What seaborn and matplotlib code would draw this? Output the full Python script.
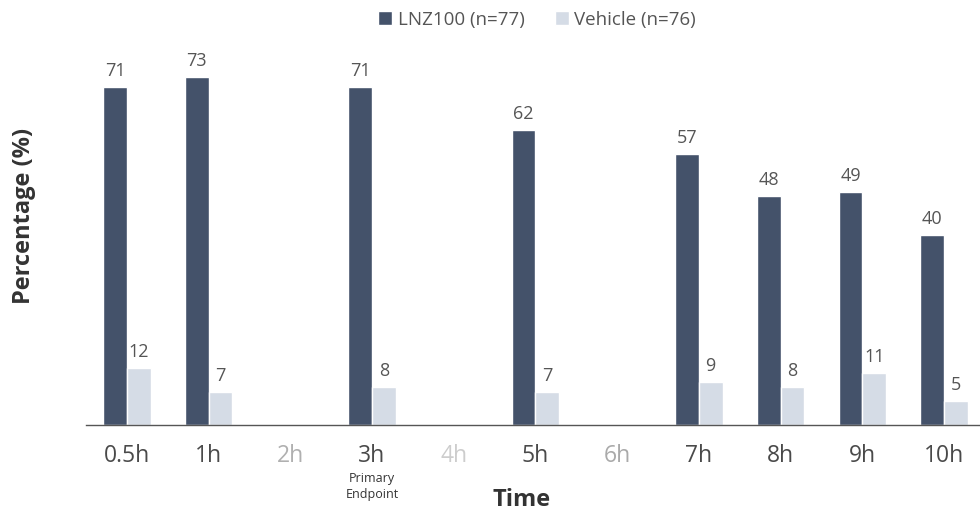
import matplotlib
matplotlib.use("Agg")
import matplotlib.pyplot as plt
from matplotlib.patches import Patch
import seaborn as sns
import pandas as pd
import numpy as np

# Time points on the x axis (2h, 4h and 6h were not assessed)
time_points = ["0.5h", "1h", "2h", "3h", "4h", "5h", "6h", "7h", "8h", "9h", "10h"]
measured = ["0.5h", "1h", "3h", "5h", "7h", "8h", "9h", "10h"]
lnz100 = [71, 73, 71, 62, 57, 48, 49, 40]
vehicle = [12, 7, 8, 7, 9, 8, 11, 5]
groups = ["LNZ100 (n=77)", "Vehicle (n=76)"]

dark = "#44526a"
light = "#d5dce6"
text_col = "#4a4a4a"

df = pd.DataFrame({
    "Time": measured * 2,
    "Percentage": lnz100 + vehicle,
    "Group": [groups[0]] * len(measured) + [groups[1]] * len(measured),
})

sns.set_theme(style="white")
plt.rcParams["font.family"] = ["Open Sans", "DejaVu Sans"]

fig = plt.figure(figsize=(9.8, 5.13), dpi=100)
ax = fig.add_axes([86 / 980, 88 / 513, 894 / 980, 381 / 513])

sns.barplot(data=df, x="Time", y="Percentage", hue="Group", order=time_points,
            hue_order=groups, palette=[dark, light], width=0.58, saturation=1,
            legend=False, ax=ax)

ax.set_ylim(0, 80)
ax.set_xlim(-0.5, 10.44)

# value labels above each bar
for container in ax.containers:
    for bar in container:
        h = bar.get_height()
        if np.isnan(h):
            continue
        ax.annotate(f"{h:.0f}", (bar.get_x() + bar.get_width() / 2, h),
                    xytext=(0, 5), textcoords="offset points",
                    ha="center", va="bottom", fontsize=13, color="#555555")

# axes styling
for side in ["top", "right", "left"]:
    ax.spines[side].set_visible(False)
ax.spines["bottom"].set_color("#555555")
ax.spines["bottom"].set_linewidth(1.0)
ax.set_yticks([])
ax.tick_params(axis="x", length=0, pad=14, labelsize=16.5, labelcolor=text_col)

greyed = {"2h": "#b0b0b0", "4h": "#cdcdcd", "6h": "#aaaaaa"}
for lbl in ax.get_xticklabels():
    if lbl.get_text() in greyed:
        lbl.set_color(greyed[lbl.get_text()])

ax.set_xlabel("Time", fontsize=17, fontweight="bold", color="#333333")
ax.xaxis.set_label_coords(0.487, -0.165)
ax.set_ylabel("Percentage (%)", fontsize=17, fontweight="bold", color="#333333")
ax.yaxis.set_label_coords(-0.056, 0.55)

# note under the primary endpoint time point
ax.annotate("Primary\nEndpoint", (time_points.index("3h"), 0), xytext=(0, -34),
            textcoords="offset points", ha="center", va="top", fontsize=9,
            color="#333333", linespacing=1.25, annotation_clip=False)

handles = [Patch(facecolor=dark, label=groups[0]), Patch(facecolor=light, label=groups[1])]
fig.legend(handles=handles, loc="upper center", bbox_to_anchor=(0.548, 1.012), ncol=2,
           frameon=False, fontsize=13.5, handlelength=0.75, handleheight=0.75,
           handletextpad=0.3, columnspacing=1.6, labelcolor="#555555")

fig.savefig("out.png", dpi=100)
